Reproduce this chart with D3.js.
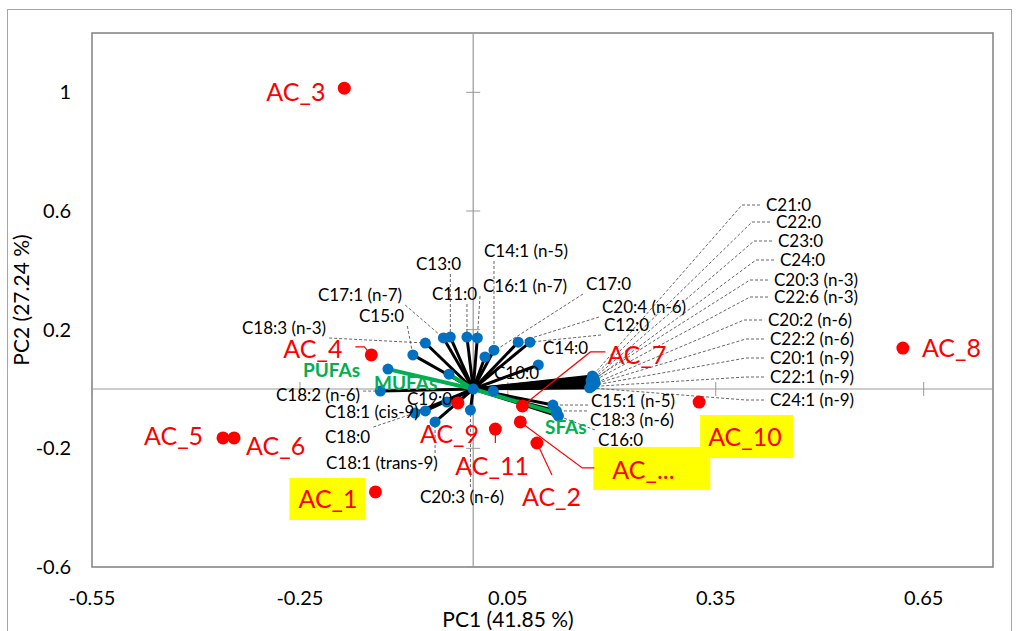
<!DOCTYPE html>
<html>
<head>
<meta charset="utf-8">
<script src="https://cdn.jsdelivr.net/npm/d3@7/dist/d3.min.js"></script>
<style>
  body { margin: 0; background: #fff; }
  text { font-family: Lato, "Open Sans", sans-serif; }
</style>
</head>
<body>
<svg id="vis"></svg>
<script>
// observations (scores)
var obsNames = ["AC_1","AC_2","AC_3","AC_4","AC_5","AC_6","AC_7","AC_8","AC_9","AC_10","AC_11","AC_..."];
var obsPC1 = [-0.141, 0.092, -0.186, -0.147, -0.361, -0.345, 0.071, 0.620, -0.022, 0.326, 0.032, 0.068];
var obsPC2 = [-0.347, -0.182, 1.014, 0.115, -0.165, -0.165, -0.057, 0.138, -0.047, -0.044, -0.135, -0.111];
var highlighted = ["AC_1","AC_10","AC_..."];

// variables (loadings)
var varNames = ["C10:0","C11:0","C12:0","C13:0","C14:0","C14:1 (n-5)","C15:0","C15:1 (n-5)","C16:0",
    "C16:1 (n-7)","C17:0","C17:1 (n-7)","C18:0","C18:1 (cis-9)","C18:1 (trans-9)","C18:2 (n-6)",
    "C18:3 (n-3)","C18:3 (n-6)","C19:0","C20:3 (n-6)","C20:4 (n-6)",
    "C21:0","C22:0","C23:0","C24:0","C20:3 (n-3)","C22:6 (n-3)","C20:2 (n-6)","C22:2 (n-6)",
    "C20:1 (n-9)","C22:1 (n-9)","C24:1 (n-9)"];
var varPC1 = [0.029, -0.009, 0.082, -0.033, 0.094, 0.030, -0.087, 0.115, 0.123,
    0.006, 0.017, -0.043, -0.084, -0.069, -0.055, -0.134,
    -0.069, 0.120, -0.038, -0.004, 0.065,
    0.172, 0.173, 0.174, 0.175, 0.170, 0.171, 0.176, 0.174, 0.172, 0.170, 0.168];
var varPC2 = [-0.007, 0.175, 0.158, 0.175, 0.081, 0.131, 0.115, -0.054, -0.091,
    0.172, 0.108, 0.172, -0.081, -0.074, -0.111, -0.007,
    0.155, -0.074, -0.044, -0.071, 0.158,
    0.044, 0.040, 0.036, 0.032, 0.028, 0.024, 0.020, 0.016, 0.012, 0.008, 0.004];

// fatty acid groups
var grpNames = ["PUFAs","MUFAs","SFAs"];
var grpPC1 = [-0.123, -0.035, 0.120];
var grpPC2 = [0.067, 0.050, -0.081];

var xTicks = [-0.55, -0.25, 0.05, 0.35, 0.65];
var yTicks = [-0.6, -0.2, 0.2, 0.6, 1];

var width = 1019, height = 631;
var margin = {top: 33, right: 26, bottom: 64, left: 92};

var svg = d3.select("#vis").attr("width", width).attr("height", height);

var x = d3.scaleLinear().domain([-0.55, 0.75]).range([margin.left, width - margin.right]);
var y = d3.scaleLinear().domain([-0.6, 1.2]).range([height - margin.bottom, margin.top]);

// outer chart border
svg.append("rect").attr("x", 7.5).attr("y", 9.5).attr("width", 1004).attr("height", 630)
    .attr("fill", "none").attr("stroke", "#a6a6a6").attr("stroke-width", 1);

// plot border
svg.append("rect").attr("x", x(-0.55)).attr("y", y(1.2))
    .attr("width", x(0.75) - x(-0.55)).attr("height", y(-0.6) - y(1.2))
    .attr("fill", "none").attr("stroke", "#808080").attr("stroke-width", 1.5);

// zero axes with cross tick marks
svg.append("line").attr("x1", x(-0.55)).attr("x2", x(0.75)).attr("y1", y(0)).attr("y2", y(0))
    .attr("stroke", "#999").attr("stroke-width", 1.2);
svg.append("line").attr("x1", x(0)).attr("x2", x(0)).attr("y1", y(-0.6)).attr("y2", y(1.2))
    .attr("stroke", "#999").attr("stroke-width", 1.2);
svg.append("g").selectAll("line").data(xTicks).enter().append("line")
    .attr("x1", function(d) {return x(d);}).attr("x2", function(d) {return x(d);})
    .attr("y1", y(0) - 7).attr("y2", y(0) + 7).attr("stroke", "#999");
svg.append("g").selectAll("line").data(yTicks).enter().append("line")
    .attr("y1", function(d) {return y(d);}).attr("y2", function(d) {return y(d);})
    .attr("x1", x(0) - 7).attr("x2", x(0) + 7).attr("stroke", "#999");

// tick labels
svg.append("g").selectAll("text").data(xTicks).enter().append("text")
    .text(function(d) {return d;})
    .attr("x", function(d) {return x(d);}).attr("y", 598).attr("dy", "0.35em")
    .attr("text-anchor", "middle").attr("font-size", 20).attr("fill", "#000");
svg.append("g").selectAll("text").data(yTicks).enter().append("text")
    .text(function(d) {return d;})
    .attr("x", 71).attr("y", function(d) {return y(d);}).attr("dy", "0.35em")
    .attr("text-anchor", "end").attr("font-size", 20).attr("fill", "#000");

// axis titles
svg.append("text").text("PC1 (41.85 %)").attr("x", 508).attr("y", 620).attr("dy", "0.35em")
    .attr("text-anchor", "middle").attr("font-size", 21);
svg.append("text").text("PC2 (27.24 %)")
    .attr("transform", "translate(22,300) rotate(-90)").attr("dy", "0.35em")
    .attr("text-anchor", "middle").attr("font-size", 21);

// variable label layout (text start x, centre y) ; right list gets elbow leaders
var varLabelPos = {
    "C13:0": [416, 264], "C14:1 (n-5)": [484, 251], "C11:0": [432, 294], "C16:1 (n-7)": [483, 286],
    "C17:1 (n-7)": [318, 295], "C17:0": [586, 284], "C15:0": [359, 316], "C20:4 (n-6)": [602, 307],
    "C18:3 (n-3)": [242, 328], "C12:0": [604, 325], "C14:0": [543, 348], "C10:0": [494, 373],
    "C18:2 (n-6)": [276, 395], "C19:0": [407, 399], "C18:1 (cis-9)": [325, 412], "C18:0": [325, 437],
    "C18:1 (trans-9)": [326, 463], "C20:3 (n-6)": [420, 497], "C15:1 (n-5)": [591, 401],
    "C18:3 (n-6)": [590, 420], "C16:0": [598, 440],
    "C21:0": [766, 205], "C22:0": [776, 222], "C23:0": [778, 241], "C24:0": [780, 260],
    "C20:3 (n-3)": [774, 280], "C22:6 (n-3)": [774, 297], "C20:2 (n-6)": [768, 320],
    "C22:2 (n-6)": [770, 339], "C20:1 (n-9)": [770, 358], "C22:1 (n-9)": [770, 377], "C24:1 (n-9)": [770, 400]
};
var rightList = ["C21:0","C22:0","C23:0","C24:0","C20:3 (n-3)","C22:6 (n-3)","C20:2 (n-6)",
    "C22:2 (n-6)","C20:1 (n-9)","C22:1 (n-9)","C24:1 (n-9)"];
var grpLabelPos = {"PUFAs": [303, 370], "MUFAs": [374, 383], "SFAs": [545, 427]};

var vars = varNames.map(function(n, i) {return {name: n, pc1: varPC1[i], pc2: varPC2[i]};});
var grps = grpNames.map(function(n, i) {return {name: n, pc1: grpPC1[i], pc2: grpPC2[i]};});
var obs = obsNames.map(function(n, i) {return {name: n, pc1: obsPC1[i], pc2: obsPC2[i]};});

var leaderG = svg.append("g");
var vecG = svg.append("g");
var labelG = svg.append("g");

var vLabels = labelG.selectAll(".varText").data(vars).enter().append("text")
    .attr("class", "varText")
    .text(function(d) {return d.name;})
    .attr("x", function(d) {return varLabelPos[d.name][0];})
    .attr("y", function(d) {return varLabelPos[d.name][1];})
    .attr("dy", "0.35em").attr("font-size", 17).attr("fill", "#000");

vLabels.each(function(d) {
    var bb = this.getBBox();
    var px = x(d.pc1), py = y(d.pc2);
    var cy = varLabelPos[d.name][1];
    var pts;
    if (rightList.indexOf(d.name) >= 0) {
        pts = [[bb.x - 6, cy], [bb.x - 24, cy], [px, py]];
    } else {
        var sx = Math.max(bb.x - 3, Math.min(px, bb.x + bb.width + 3));
        var sy = Math.max(cy - 10, Math.min(py, cy + 10));
        if (Math.hypot(sx - px, sy - py) < 12) return;
        pts = [[sx, sy], [px, py]];
    }
    leaderG.append("path").attr("d", d3.line()(pts))
        .attr("fill", "none").attr("stroke", "#555").attr("stroke-width", 0.9)
        .attr("stroke-dasharray", "3,2");
});

// black loading vectors
vecG.selectAll(".vLine").data(vars).enter().append("line")
    .attr("x1", x(0)).attr("y1", y(0))
    .attr("x2", function(d) {return x(d.pc1);}).attr("y2", function(d) {return y(d.pc2);})
    .attr("stroke", "#000").attr("stroke-width", 3);
// green group vectors
vecG.selectAll(".gLine").data(grps).enter().append("line")
    .attr("x1", x(0)).attr("y1", y(0))
    .attr("x2", function(d) {return x(d.pc1);}).attr("y2", function(d) {return y(d.pc2);})
    .attr("stroke", "#00B050").attr("stroke-width", 4);
// blue end points
vecG.selectAll(".vDot").data(vars.concat(grps)).enter().append("circle")
    .attr("cx", function(d) {return x(d.pc1);}).attr("cy", function(d) {return y(d.pc2);})
    .attr("r", 5.5).attr("fill", "#0070C0");
vecG.append("circle").attr("cx", x(0)).attr("cy", y(0)).attr("r", 5.5).attr("fill", "#0070C0");

// group labels
svg.append("g").selectAll("text").data(grps).enter().append("text")
    .text(function(d) {return d.name;})
    .attr("x", function(d) {return grpLabelPos[d.name][0];})
    .attr("y", function(d) {return grpLabelPos[d.name][1];})
    .attr("dy", "0.35em").attr("font-size", 19).attr("font-weight", "bold").attr("fill", "#00B050");

// observation label layout: offset of text start / centre from the dot, optional box and leader
var obsLayout = {
    "AC_1": {d: [-77, 7], box: [-86, -14, 76, 42]},
    "AC_2": {d: [-15, 54], lead: [[0, 0], [15, 32]]},
    "AC_3": {d: [-78, 4]},
    "AC_4": {d: [-88, -6], lead: [[0, 0], [-7, -8], [-16, -8]]},
    "AC_5": {d: [-79, -2]},
    "AC_6": {d: [12, 8]},
    "AC_7": {d: [85, -51], lead: [[0, 0], [68, -54], [83, -54]]},
    "AC_8": {d: [19, 0]},
    "AC_9": {d: [-38, 31]},
    "AC_10": {d: [9, 35], box: [1, 13, 93, 43]},
    "AC_11": {d: [-40, 37], lead: [[0, 0], [0, 14]]},
    "AC_...": {d: [92, 48], box: [73, 25, 117, 43], lead: [[0, 0], [62, 46], [74, 46]]}
};

var obsG = svg.append("g");
obs.forEach(function(o) {
    var L = obsLayout[o.name], px = x(o.pc1), py = y(o.pc2);
    if (highlighted.indexOf(o.name) >= 0 && L.box) {
        obsG.append("rect").attr("x", px + L.box[0]).attr("y", py + L.box[1])
            .attr("width", L.box[2]).attr("height", L.box[3]).attr("fill", "#FFFF00");
    }
    if (L.lead) {
        obsG.append("path").attr("d", d3.line()(L.lead.map(function(p) {return [px + p[0], py + p[1]];})))
            .attr("fill", "none").attr("stroke", "#FF0000").attr("stroke-width", 1.2);
    }
});
obsG.selectAll("circle").data(obs).enter().append("circle")
    .attr("cx", function(d) {return x(d.pc1);}).attr("cy", function(d) {return y(d.pc2);})
    .attr("r", 6.5).attr("fill", "#FF0000");
obsG.selectAll("text").data(obs).enter().append("text")
    .text(function(d) {return d.name;})
    .attr("x", function(d) {return x(d.pc1) + obsLayout[d.name].d[0];})
    .attr("y", function(d) {return y(d.pc2) + obsLayout[d.name].d[1];})
    .attr("dy", "0.35em").attr("font-size", 25).attr("fill", "#FF0000");
</script>
</body>
</html>
